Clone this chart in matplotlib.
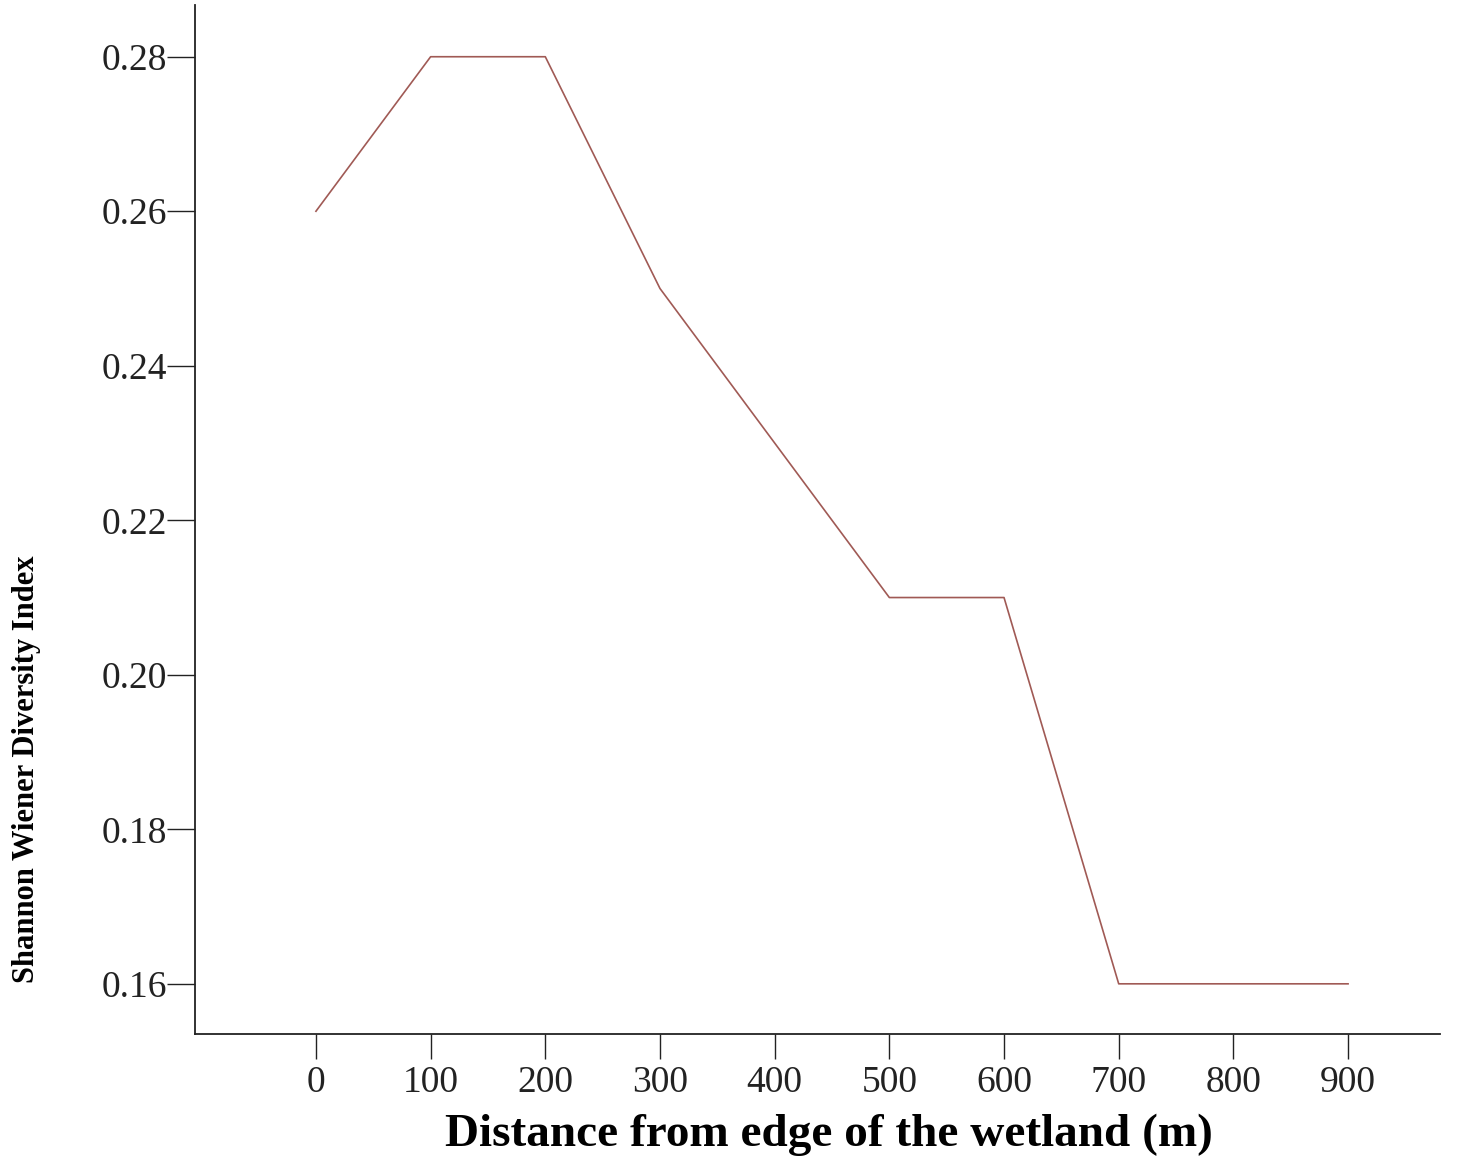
import matplotlib.pyplot as plt

distance = [0, 100, 200, 300, 400, 500, 600, 700, 800, 900]
shannon = [0.26, 0.28, 0.28, 0.25, 0.23, 0.21, 0.21, 0.16, 0.16, 0.16]
x_ticks = [0, 100, 200, 300, 400, 500, 600, 700, 800, 900]
y_ticks = [0.16, 0.18, 0.20, 0.22, 0.24, 0.26, 0.28]

plt.rcParams['font.family'] = 'Liberation Serif'

fig = plt.figure(figsize=(14.68, 11.56), dpi=100)
ax = fig.add_axes([0.1328, 0.1055, 0.848, 0.8902])

ax.plot(distance, shannon, color='#a05a55', linewidth=1.2)

ax.set_xlim(-105.5, 980)
ax.set_ylim(0.1535, 0.2867)
ax.set_xticks(x_ticks)
ax.set_xticklabels([str(v) for v in x_ticks])
ax.set_yticks(y_ticks)
ax.set_yticklabels(['%.2f' % v for v in y_ticks])

ax.spines['top'].set_visible(False)
ax.spines['right'].set_visible(False)
for s in ('left', 'bottom'):
    ax.spines[s].set_linewidth(1.3)
    ax.spines[s].set_color('#222222')

ax.tick_params(axis='y', direction='out', length=20, width=1.0, pad=0,
               labelsize=27, colors='#222222')
ax.tick_params(axis='x', direction='out', length=18, width=1.0, pad=5,
               labelsize=27, colors='#222222')

ax.set_xlabel('Distance from edge of the wetland (m)', fontsize=34,
              fontweight='bold', va='center')
ax.xaxis.set_label_coords(0.509, -0.098)
ax.set_ylabel('Shannon Wiener Diversity Index', fontsize=22,
              fontweight='bold', va='center')
ax.yaxis.set_label_coords(-0.135, 0.257)

fig.savefig('out.png', dpi=100)
